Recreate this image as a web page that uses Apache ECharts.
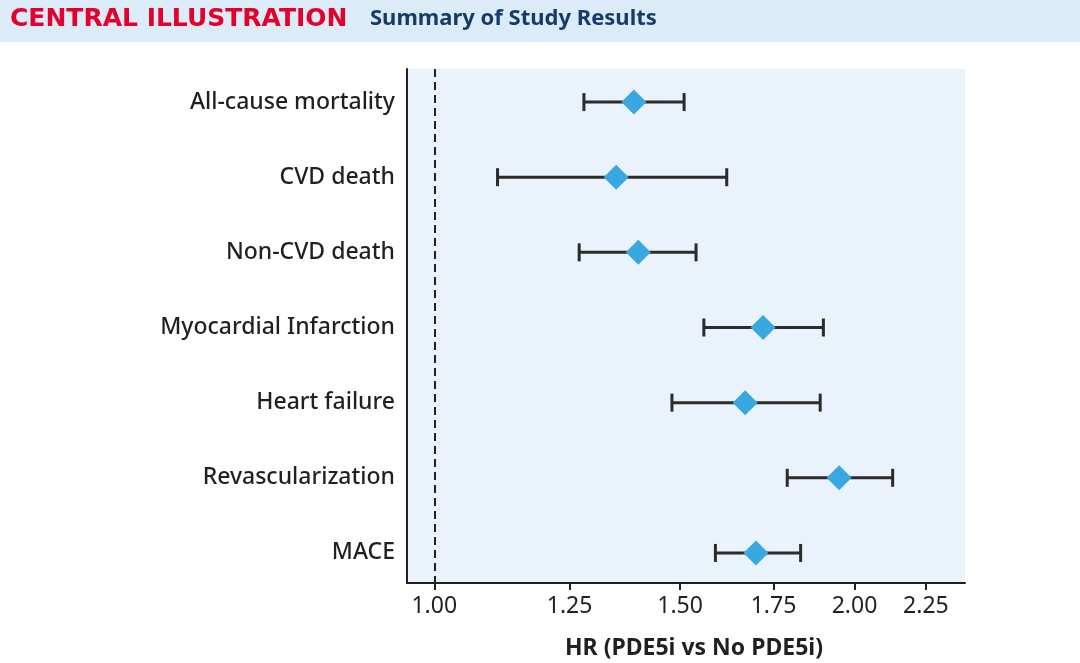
<!DOCTYPE html>
<html>
<head>
<meta charset="utf-8">
<script src="https://cdn.jsdelivr.net/npm/echarts@6/dist/echarts.min.js"></script>
<style>html,body{margin:0;padding:0;background:#fff}#c{width:1080px;height:663px}</style>
</head>
<body>
<div id="c"></div>
<script>
const categories = ['All-cause mortality','CVD death','Non-CVD death','Myocardial Infarction','Heart failure','Revascularization','MACE'];
const hr    = [1.39, 1.35, 1.40, 1.72, 1.67, 1.95, 1.70];
const lower = [1.28, 1.11, 1.27, 1.56, 1.48, 1.79, 1.59];
const upper = [1.51, 1.62, 1.54, 1.90, 1.89, 2.13, 1.83];
const tickValues = [1.00, 1.25, 1.50, 1.75, 2.00, 2.25];
const refLine = 1.00;
const xMin = 0.956, xMax = 2.40;

const ln = Math.log;
const rows = categories.map((c, i) => [i, ln(hr[i]), ln(lower[i]), ln(upper[i])]);
const tickLn = tickValues.map(ln);

const chart = echarts.init(document.getElementById('c'), null, {renderer: 'canvas'});
chart.setOption({
  animation: false,
  backgroundColor: '#ffffff',
  graphic: [
    {type: 'rect', left: 0, top: 0, shape: {width: 1080, height: 42}, style: {fill: '#dcebf8'}, z: -1},
    {type: 'text', left: 10, top: 7, style: {text: 'CENTRAL ILLUSTRATION', fill: '#e4002b', font: 'bold 25px "DejaVu Sans"'}},
    {type: 'text', left: 370, top: 8, style: {text: 'Summary of Study Results', fill: '#173a6b', font: 'bold 22px "Noto Sans"'}}
  ],
  grid: {left: 407, right: 115, top: 69, bottom: 80, show: true, backgroundColor: '#eaf3fc', borderWidth: 0, containLabel: false, outerBoundsMode: 'none'},
  xAxis: {
    type: 'value', min: ln(xMin), max: ln(xMax),
    axisLine: {show: true, onZero: false, lineStyle: {color: '#231f20', width: 2}},
    axisTick: {show: true, customValues: tickLn, length: 7, lineStyle: {color: '#231f20', width: 2}},
    axisLabel: {customValues: tickLn, formatter: v => Math.exp(v).toFixed(2), fontSize: 23, color: '#231f20', margin: 12, fontFamily: 'Noto Sans'},
    splitLine: {show: false},
    name: 'HR (PDE5i vs No PDE5i)', nameLocation: 'middle', nameGap: 54,
    nameTextStyle: {fontSize: 23, fontWeight: 'bold', color: '#231f20', fontFamily: 'Noto Sans', padding: [0, 0, 0, 16]}
  },
  yAxis: {
    type: 'value', inverse: true, min: -0.44, max: 6.4,
    axisLine: {show: true, onZero: false, lineStyle: {color: '#231f20', width: 2}},
    axisTick: {show: false},
    axisLabel: {customValues: categories.map((c, i) => i), formatter: v => categories[Math.round(v)], fontSize: 23, color: '#231f20', margin: 12, fontFamily: 'Noto Sans', fontWeight: 500},
    splitLine: {show: false}
  },
  series: [
    {
      type: 'custom',
      data: rows,
      encode: {x: [1, 2, 3], y: 0},
      renderItem: function (params, api) {
        const y = api.value(0);
        const a = api.coord([api.value(2), y]);
        const b = api.coord([api.value(3), y]);
        const h = 9;
        const st = {stroke: '#2b2b2b', lineWidth: 3};
        return {type: 'group', children: [
          {type: 'line', shape: {x1: a[0], y1: a[1], x2: b[0], y2: b[1]}, style: st},
          {type: 'line', shape: {x1: a[0], y1: a[1] - h, x2: a[0], y2: a[1] + h}, style: st},
          {type: 'line', shape: {x1: b[0], y1: b[1] - h, x2: b[0], y2: b[1] + h}, style: st}
        ]};
      },
      z: 2
    },
    {
      type: 'scatter',
      data: rows.map(r => [r[1], r[0]]),
      symbol: 'diamond', symbolSize: 25,
      itemStyle: {color: '#3aa8e0', opacity: 1},
      z: 3,
      markLine: {
        silent: true, symbol: 'none', label: {show: false},
        lineStyle: {color: '#231f20', width: 2, type: [8, 5]},
        data: [{xAxis: ln(refLine)}]
      }
    }
  ]
});
</script>
</body>
</html>
